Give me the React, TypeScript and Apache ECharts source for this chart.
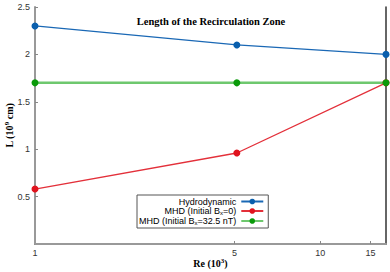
import React, { useEffect, useRef } from "react";
import * as echarts from "echarts";

const reValues = [1, 5.1, 17];
const hydro = [2.3, 2.1, 2.0];
const mhd0 = [0.58, 0.96, 1.7];
const mhd325 = [1.7, 1.7, 1.7];
const xTickValues = [1, 5, 10, 15];
const seriesNames = ["Hydrodynamic", "MHD (Initial Bx=0)", "MHD (Initial Bx=32.5 nT)"];

const pairs = (ys: number[]) => reValues.map((x, i) => [x, ys[i]]);

export default function App() {
  const ref = useRef<HTMLDivElement>(null);
  useEffect(() => {
    if (!ref.current) return;
    const chart = echarts.init(ref.current, null, { renderer: "svg" });
    const serif = "Liberation Serif";
    const sans = "Liberation Sans";
    chart.setOption({
      animation: false,
      title: {
        text: "Length of the Recirculation Zone",
        left: 206,
        textAlign: "center",
        top: 11,
        textStyle: { fontFamily: serif, fontWeight: "bold", fontSize: 10.5, color: "#000" },
      },
      grid: { left: 35, right: 4, top: 7, bottom: 28, outerBoundsMode: "none", containLabel: false },
      legend: {
        orient: "vertical",
        left: 137,
        top: 195,
        align: "right",
        itemGap: 0,
        itemWidth: 22,
        itemHeight: 7,
        padding: [2, 4, 2, 2],
        borderColor: "#555",
        borderWidth: 1,
        data: seriesNames,
        formatter: (name: string) => {
          if (name === seriesNames[1]) return "{n|MHD (Initial B}{s|x}{n|=0)}";
          if (name === seriesNames[2]) return "{n|MHD (Initial B}{s|x}{n|=32.5 nT)}";
          return "{n|" + name + "}";
        },
        textStyle: {
          width: 104,
          align: "right",
          fontFamily: sans,
          fontSize: 9,
          color: "#000",
          padding: [0, 0, 0, 0],
          rich: {
            n: { fontFamily: sans, fontSize: 9, color: "#000", lineHeight: 8 },
            s: { fontFamily: sans, fontSize: 6, color: "#000", padding: [4, 0, 0, 0], lineHeight: 8 },
          },
        },
      },
      xAxis: [
        {
          type: "log",
          logBase: 10,
          min: 1,
          max: 17,
          name: "{n|Re (10}{s|3}{n|)}",
          nameLocation: "middle",
          nameGap: 13,
          nameMoveOverlap: false,
          nameTextStyle: {
            rich: {
              n: { fontFamily: serif, fontWeight: "bold", fontSize: 10, color: "#000" },
              s: { fontFamily: serif, fontWeight: "bold", fontSize: 7, color: "#000", padding: [0, 0, 6, 0] },
            },
          },
          axisLine: { show: true, lineStyle: { color: "#222", width: 1 } },
          axisTick: { show: true, inside: true, length: 3, customValues: xTickValues.slice(1), lineStyle: { color: "#888" } },
          axisLabel: {
            customValues: xTickValues,
            fontFamily: sans,
            fontSize: 9,
            color: "#333",
            margin: 4,
            formatter: (v: number) => String(Math.round(v)),
          },
          minorTick: { show: false },
          splitLine: { show: false },
        },
        {
          type: "value",
          position: "top",
          min: 0,
          max: 1,
          axisLine: { show: true, lineStyle: { color: "#999", width: 2 } },
          axisTick: { show: false },
          axisLabel: { show: false },
          splitLine: { show: false },
        },
      ],
      yAxis: [
        {
          type: "value",
          min: 0,
          max: 2.5,
          interval: 0.5,
          name: "{n|L (10}{s|9}{n| cm)}",
          nameLocation: "middle",
          nameGap: 19,
          nameMoveOverlap: false,
          nameRotate: 90,
          nameTextStyle: {
            rich: {
              n: { fontFamily: serif, fontWeight: "bold", fontSize: 10, color: "#000" },
              s: { fontFamily: serif, fontWeight: "bold", fontSize: 7, color: "#000", padding: [0, 0, 6, 0] },
            },
          },
          axisLine: { show: true, lineStyle: { color: "#999", width: 2 } },
          axisTick: { show: true, inside: true, length: 3, lineStyle: { color: "#888" } },
          axisLabel: {
            showMinLabel: false,
            fontFamily: sans,
            fontSize: 9,
            color: "#333",
            margin: 5,
          },
          splitLine: { show: false },
        },
        {
          type: "value",
          position: "right",
          min: 0,
          max: 1,
          axisLine: { show: true, lineStyle: { color: "#333", width: 1.5 } },
          axisTick: { show: false },
          axisLabel: { show: false },
          splitLine: { show: false },
        },
      ],
      series: [
        {
          name: seriesNames[0],
          type: "line",
          data: pairs(hydro),
          symbol: "circle",
          symbolSize: 7,
          itemStyle: { color: "#0a5fad" },
          lineStyle: { color: "#1a68b5", width: 1.3 },
        },
        {
          name: seriesNames[1],
          type: "line",
          data: pairs(mhd0),
          symbol: "circle",
          symbolSize: 7,
          itemStyle: { color: "#e0141e" },
          lineStyle: { color: "#e3303a", width: 1.3 },
        },
        {
          name: seriesNames[2],
          type: "line",
          data: pairs(mhd325),
          symbol: "circle",
          symbolSize: 7,
          itemStyle: { color: "#0a9a0a" },
          lineStyle: { color: "#6ec86e", width: 2.5 },
        },
      ],
    });
    return () => chart.dispose();
  }, []);
  return <div ref={ref} style={{ width: 390, height: 272, position: "absolute", left: 0, top: 0 }} />;
}
